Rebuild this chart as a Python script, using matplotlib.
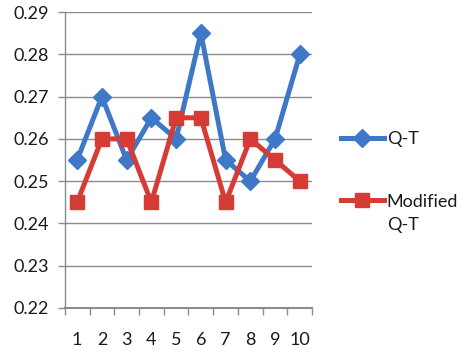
import matplotlib
matplotlib.use("Agg")
import matplotlib.pyplot as plt
from matplotlib.ticker import FixedLocator

categories = [1, 2, 3, 4, 5, 6, 7, 8, 9, 10]
qt = [0.255, 0.27, 0.255, 0.265, 0.26, 0.285, 0.255, 0.25, 0.26, 0.28]
modified_qt = [0.245, 0.26, 0.26, 0.245, 0.265, 0.265, 0.245, 0.26, 0.255, 0.25]
yticks = [0.22, 0.23, 0.24, 0.25, 0.26, 0.27, 0.28, 0.29]

plt.rcParams['font.family'] = ['Lato', 'DejaVu Sans']

fig = plt.figure(figsize=(4.66, 3.56), dpi=100)
ax = fig.add_axes([0.139, 0.135, 0.531, 0.831])

blue = '#3E78C6'
red = '#D63C36'
gridc = '#8C8C8C'
txtc = '#1a1a1a'
fs = 13

l1, = ax.plot(categories, qt, color=blue, lw=3.6, marker='D', ms=9.5, label='Q-T', zorder=3)
l2, = ax.plot(categories, modified_qt, color=red, lw=3.6, marker='s', ms=10, label='Modified', zorder=3)

ax.set_xlim(0.5, 10.5)
ax.set_ylim(0.22, 0.29)
ax.set_yticks(yticks)
ax.set_yticklabels([f"{v:.2f}" for v in yticks])
ax.set_xticks(categories)
ax.set_xticklabels([str(c) for c in categories])
ax.xaxis.set_minor_locator(FixedLocator([c + 0.5 for c in [0] + categories]))
ax.tick_params(axis='x', which='major', length=0, pad=17, labelsize=fs, labelcolor=txtc)
ax.tick_params(axis='x', which='minor', length=5, width=1, color=gridc, direction='out')
ax.tick_params(axis='y', length=5, width=1, color=gridc, pad=6.5, labelsize=fs, labelcolor=txtc)

ax.grid(axis='y', color=gridc, lw=1)
ax.set_axisbelow(True)
for s in ['top', 'right']:
    ax.spines[s].set_visible(False)
ax.spines['left'].set_color(gridc)
ax.spines['bottom'].set_color(gridc)
ax.spines['left'].set_linewidth(1)
ax.spines['bottom'].set_linewidth(1.5)

leg = fig.legend(handles=[l1, l2], loc='upper left', bbox_to_anchor=(0.731, 0.632),
                 frameon=False, fontsize=fs, handlelength=2.4, labelspacing=2.58,
                 handletextpad=0.15, borderaxespad=0, borderpad=0)
for t in leg.get_texts():
    t.set_color(txtc)

# second line of the "Modified Q-T" legend label
fig.canvas.draw()
r = fig.canvas.get_renderer()
bb = leg.get_texts()[1].get_window_extent(r)
x0, y0 = fig.transFigure.inverted().transform((bb.x0, bb.y0))
fig.text(x0, y0 - 0.022, 'Q-T', fontsize=fs, color=txtc, ha='left', va='top')

fig.savefig('out.png', dpi=100)
